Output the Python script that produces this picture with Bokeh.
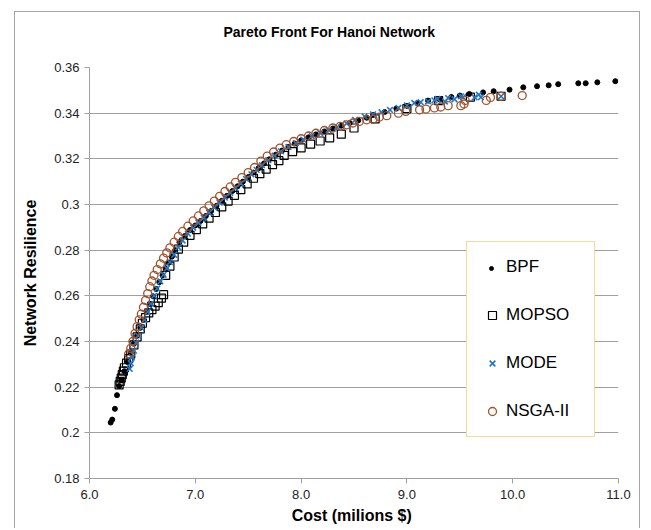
from bokeh.plotting import figure
from bokeh.models import FixedTicker, Legend, LegendItem, Range1d, Title
from bokeh.embed import file_html
from bokeh.resources import INLINE

# ---- data ----
bpf_x = [6.20, 6.215, 6.24, 6.26, 6.28, 6.30, 6.33, 6.36, 6.39, 6.42, 6.45, 6.48, 6.51, 6.54,
         6.57, 6.60, 6.63, 6.66, 6.69, 6.72, 6.75, 6.78, 6.81, 6.85, 6.90, 6.95, 7.00, 7.05,
         7.10, 7.15, 7.20, 7.25, 7.30, 7.35, 7.40, 7.45, 7.50, 7.55, 7.60, 7.65, 7.70, 7.76,
         7.82, 7.88, 7.94, 8.00, 8.07, 8.14, 8.22, 8.30, 8.38, 8.46, 8.54, 8.62, 8.68, 8.79,
         8.90, 9.00, 9.10, 9.20, 9.31, 9.42, 9.50, 9.59, 9.72, 9.82, 9.97, 10.10, 10.23, 10.34,
         10.43, 10.62, 10.69, 10.80, 10.97]
bpf_y = [0.2045, 0.2058, 0.2105, 0.2165, 0.2205, 0.2230, 0.2270, 0.2310, 0.2350, 0.2390, 0.2425,
         0.2460, 0.2495, 0.2530, 0.2565, 0.2598, 0.2630, 0.2660, 0.2690, 0.2718, 0.2745, 0.2772,
         0.2800, 0.2835, 0.2862, 0.2888, 0.2908, 0.2928, 0.2950, 0.2972, 0.2994, 0.3016, 0.3038,
         0.3059, 0.3080, 0.3100, 0.3120, 0.3140, 0.3160, 0.3180, 0.3198, 0.3218, 0.3236, 0.3252,
         0.3267, 0.3281, 0.3294, 0.3307, 0.3320, 0.3333, 0.3345, 0.3357, 0.3368, 0.3380, 0.3392,
         0.3405, 0.3420, 0.3432, 0.3443, 0.3455, 0.3460, 0.3471, 0.3477, 0.3484, 0.3491, 0.3496,
         0.3503, 0.3513, 0.3518, 0.3522, 0.3527, 0.3531, 0.3531, 0.3535, 0.3540]

mopso_x = [6.28, 6.29, 6.30, 6.31, 6.32, 6.33, 6.35, 6.37, 6.39, 6.42, 6.45, 6.48, 6.50, 6.53,
           6.56, 6.59, 6.62, 6.65, 6.68, 6.70, 6.72, 6.76, 6.80, 6.84, 6.89, 6.95, 7.01, 7.07,
           7.13, 7.19, 7.25, 7.31, 7.37, 7.43, 7.49, 7.55, 7.61, 7.67, 7.73, 7.79, 7.84, 7.92,
           8.00, 8.09, 8.18, 8.27, 8.38, 8.50, 8.70, 9.00, 9.30, 9.60, 9.89]
mopso_y = [0.2210, 0.2225, 0.2240, 0.2255, 0.2270, 0.2285, 0.2305, 0.2325, 0.2345, 0.2385, 0.2420,
           0.2455, 0.2480, 0.2505, 0.2525, 0.2540, 0.2555, 0.2570, 0.2590, 0.2605, 0.2690, 0.2730,
           0.2770, 0.2805, 0.2835, 0.2865, 0.2890, 0.2915, 0.2940, 0.2965, 0.2990, 0.3015, 0.3040,
           0.3065, 0.3090, 0.3115, 0.3135, 0.3155, 0.3175, 0.3192, 0.3215, 0.3232, 0.3248, 0.3264,
           0.3278, 0.3292, 0.3308, 0.3335, 0.3375, 0.3420, 0.3455, 0.3470, 0.3474]

mode_x = [6.38, 6.39, 6.40, 6.42, 6.44, 6.46, 6.49, 6.52, 6.55, 6.58, 6.61, 6.64, 6.67, 6.70,
          6.73, 6.76, 6.80, 6.84, 6.88, 6.93, 6.98, 7.03, 7.08, 7.13, 7.18, 7.23, 7.28, 7.33,
          7.38, 7.43, 7.48, 7.53, 7.58, 7.63, 7.69, 7.75, 7.81, 7.88, 7.95, 8.02, 8.10, 8.18,
          8.26, 8.34, 8.43, 8.51, 8.60, 8.68, 8.76, 8.84, 8.92, 9.00, 9.07, 9.13, 9.20, 9.26,
          9.29, 9.36, 9.39, 9.45, 9.51, 9.53, 9.64, 9.68, 9.70, 9.89]
mode_y = [0.2280, 0.2305, 0.2330, 0.2360, 0.2395, 0.2425, 0.2460, 0.2495, 0.2530, 0.2565, 0.2600,
          0.2632, 0.2663, 0.2692, 0.2720, 0.2748, 0.2780, 0.2812, 0.2842, 0.2872, 0.2898, 0.2920,
          0.2942, 0.2964, 0.2986, 0.3008, 0.3030, 0.3051, 0.3072, 0.3092, 0.3112, 0.3132, 0.3152,
          0.3172, 0.3194, 0.3214, 0.3233, 0.3252, 0.3269, 0.3284, 0.3299, 0.3313, 0.3326, 0.3339,
          0.3355, 0.3370, 0.3386, 0.3395, 0.3404, 0.3414, 0.3423, 0.3434, 0.3445, 0.3448, 0.3452,
          0.3456, 0.3462, 0.3451, 0.3466, 0.3461, 0.3474, 0.3470, 0.3469, 0.3481, 0.3470, 0.3474]

nsga_x = [6.37, 6.39, 6.41, 6.43, 6.45, 6.47, 6.49, 6.51, 6.53, 6.55, 6.57, 6.59, 6.61, 6.64,
          6.67, 6.70, 6.73, 6.76, 6.80, 6.84, 6.88, 6.93, 6.98, 7.03, 7.08, 7.13, 7.18, 7.23,
          7.28, 7.33, 7.38, 7.44, 7.50, 7.56, 7.62, 7.68, 7.74, 7.80, 7.86, 7.93, 8.00, 8.07,
          8.14, 8.22, 8.30, 8.37, 8.43, 8.49, 8.55, 8.62, 8.68, 8.74, 8.81, 8.92, 8.99, 9.12,
          9.18, 9.26, 9.32, 9.39, 9.51, 9.54, 9.55, 9.75, 9.79, 9.89, 10.09]
nsga_y = [0.2345, 0.2370, 0.2400, 0.2435, 0.2465, 0.2495, 0.2520, 0.2550, 0.2580, 0.2610, 0.2640,
          0.2665, 0.2690, 0.2715, 0.2740, 0.2765, 0.2788, 0.2810, 0.2835, 0.2860, 0.2882, 0.2905,
          0.2928, 0.2950, 0.2972, 0.2994, 0.3015, 0.3036, 0.3057, 0.3077, 0.3097, 0.3118, 0.3140,
          0.3162, 0.3190, 0.3212, 0.3230, 0.3247, 0.3262, 0.3276, 0.3288, 0.3300, 0.3312, 0.3324,
          0.3335, 0.3342, 0.3349, 0.3357, 0.3364, 0.3371, 0.3374, 0.3383, 0.3389, 0.3400, 0.3408,
          0.3415, 0.3418, 0.3423, 0.3427, 0.3433, 0.3433, 0.3440, 0.3456, 0.3456, 0.3469, 0.3474,
          0.3477]

series_names = ["BPF", "MOPSO", "MODE", "NSGA-II"]
x_ticks = [6, 7, 8, 9, 10, 11]
x_tick_labels = ["6.0", "7.0", "8.0", "9.0", "10.0", "11.0"]
y_ticks = [0.18, 0.20, 0.22, 0.24, 0.26, 0.28, 0.30, 0.32, 0.34, 0.36]
y_tick_labels = ["0.18", "0.2", "0.22", "0.24", "0.26", "0.28", "0.3", "0.32", "0.34", "0.36"]

FONT = "Liberation Sans"
GRID = "#A0A0A0"
CHART_BORDER = "1.5px solid #A6A6A6"

p = figure(width=626, height=517, x_range=Range1d(6, 11), y_range=Range1d(0.18, 0.36),
           output_backend="svg", toolbar_location=None,
           min_border_left=74, min_border_right=23, min_border_top=55, min_border_bottom=51)
p.margin = (11, 0, 0, 14)
p.styles = {"border-left": CHART_BORDER, "border-top": CHART_BORDER,
            "border-right": CHART_BORDER}
p.background_fill_color = "white"
p.border_fill_color = "white"
p.outline_line_color = None

# empty spacer panel between the frame and the title, so the title sits higher
p.add_layout(Title(text=" ", text_font=FONT, text_font_size="14px", standoff=4), "above")

p.title.text = "Pareto Front For Hanoi Network"
p.title.align = "left"
p.title.offset = 134
p.title.text_font = FONT
p.title.text_font_size = "14px"
p.title.text_font_style = "bold"
p.title.text_color = "black"
p.title.standoff = 12

# axes
p.xaxis.ticker = FixedTicker(ticks=x_ticks)
p.xaxis.major_label_overrides = {t: l for t, l in zip(x_ticks, x_tick_labels)}
p.yaxis.ticker = FixedTicker(ticks=y_ticks)
p.yaxis.major_label_overrides = {t: l for t, l in zip(y_ticks, y_tick_labels)}
for ax in (p.xaxis[0], p.yaxis[0]):
    ax.axis_line_color = GRID
    ax.axis_line_width = 1
    ax.major_tick_line_color = GRID
    ax.major_tick_out = 5
    ax.major_tick_in = 0
    ax.minor_tick_line_color = None
    ax.major_label_text_font = FONT
    ax.major_label_text_font_size = "13px"
    ax.major_label_text_color = "#222222"
    ax.axis_label_text_font = FONT
    ax.axis_label_text_font_size = "16px"
    ax.axis_label_text_font_style = "bold"
    ax.axis_label_text_color = "black"
p.xaxis.axis_label = "Cost  (milions $)"
p.yaxis.axis_label = "Network Resilience"
p.xaxis.major_label_standoff = 6
p.xaxis.axis_label_standoff = 5
p.yaxis.major_label_standoff = 5
p.yaxis.axis_label_standoff = 12

p.xgrid.grid_line_color = None
p.ygrid.grid_line_color = GRID
p.ygrid.grid_line_width = 1

r_bpf = p.scatter(bpf_x, bpf_y, marker="circle", size=5, fill_color="black", line_color="black")
r_mopso = p.scatter(mopso_x, mopso_y, marker="square", size=8, fill_color=None,
                    line_color="black", line_width=1.2)
r_mode = p.scatter(mode_x, mode_y, marker="x", size=8, line_color="#1F77C6", line_width=1.6)
r_nsga = p.scatter(nsga_x, nsga_y, marker="circle", size=8, fill_color=None,
                   line_color="#A0522D", line_width=1.3)
# invisible stand-in so the BPF legend row keeps its label; its small dot is drawn by legend_dot
r_bpf_key = p.scatter([], [], marker="circle", size=5, fill_alpha=0, line_alpha=0)

LX, LY = 377, 41
legend = Legend(items=[LegendItem(label=n, renderers=[r]) for n, r in
                       zip(series_names, [r_bpf_key, r_mopso, r_mode, r_nsga])],
                location=(LX, LY))
legend.border_line_color = "#F2B52B"
legend.border_line_width = 1.5
legend.background_fill_color = "white"
legend.background_fill_alpha = 1
legend.padding = 15
legend.spacing = 28
legend.glyph_height = 20
legend.glyph_width = 20
legend.label_height = 20
legend.label_standoff = 4
legend.label_width = 73
legend.margin = 0
legend.label_text_font = FONT
legend.label_text_font_size = "17px"
legend.label_text_color = "black"
p.add_layout(legend)

legend_dot = Legend(items=[LegendItem(label=" ", renderers=[r_bpf])],
                    location=(LX + 20, LY + 164))
legend_dot.border_line_color = None
legend_dot.background_fill_alpha = 0
legend_dot.padding = 0
legend_dot.margin = 0
legend_dot.glyph_height = 10
legend_dot.glyph_width = 10
legend_dot.label_height = 10
legend_dot.label_width = 1
legend_dot.label_standoff = 0
legend_dot.label_text_font_size = "1px"
p.add_layout(legend_dot)

open("out.html", "w").write(file_html(p, INLINE))
